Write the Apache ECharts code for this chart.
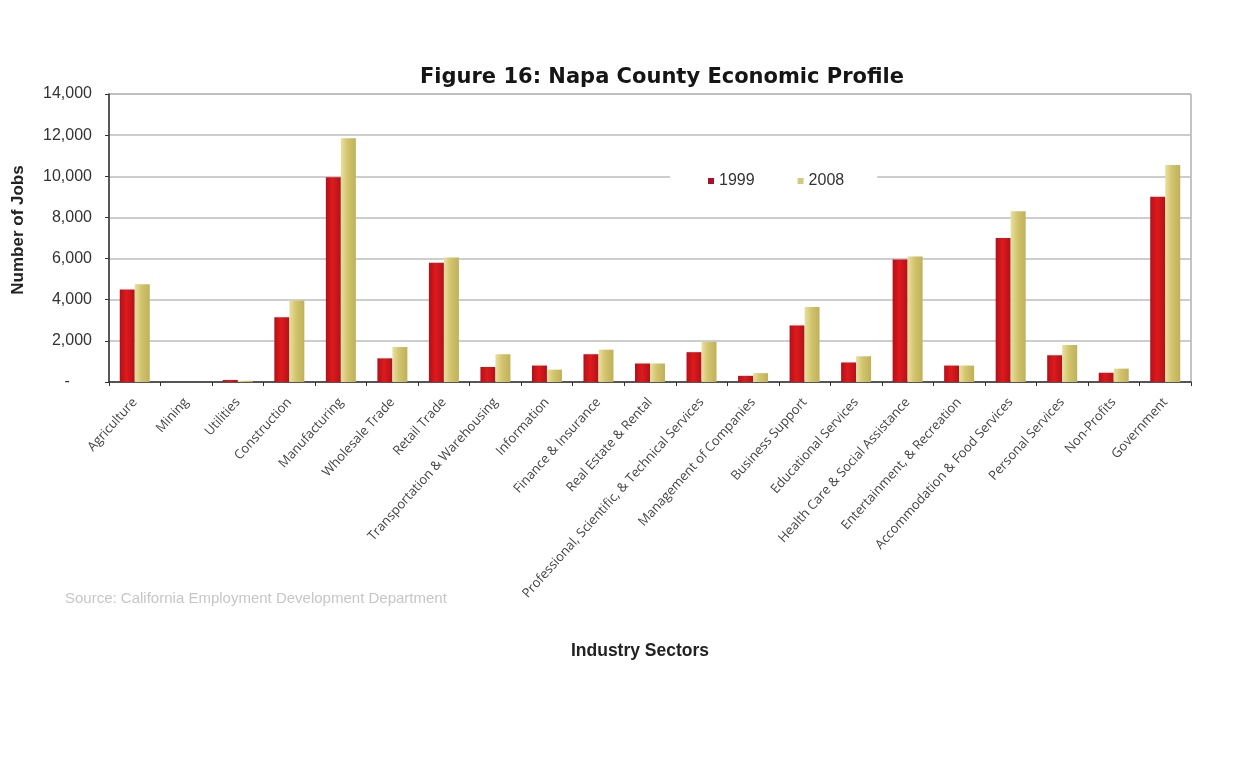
<!DOCTYPE html>
<html>
<head>
<meta charset="utf-8">
<title>Napa County Economic Profile</title>
<script src="https://cdn.jsdelivr.net/npm/echarts@6/dist/echarts.min.js"></script>
<style>
  html, body { margin: 0; padding: 0; background: #ffffff; }
  #chart { width: 1238px; height: 766px; }
</style>
</head>
<body>
<div id="chart"></div>
<script>
// Industry sectors along the x axis
const sectors = [
  'Agriculture', 'Mining', 'Utilities', 'Construction', 'Manufacturing',
  'Wholesale Trade', 'Retail Trade', 'Transportation & Warehousing',
  'Information', 'Finance & Insurance', 'Real Estate & Rental',
  'Professional, Scientific, & Technical Services', 'Management of Companies',
  'Business Support', 'Educational Services', 'Health Care & Social Assistance',
  'Entertainment, & Recreation', 'Accommodation & Food Services',
  'Personal Services', 'Non-Profits', 'Government'
];

// Number of jobs per sector
const jobs1999 = [4500, 0, 100, 3150, 9950, 1150, 5800, 730, 800, 1350, 900,
  1450, 300, 2750, 950, 5950, 800, 7000, 1300, 450, 9000];
const jobs2008 = [4750, 0, 60, 3950, 11850, 1700, 6050, 1350, 600, 1570, 900,
  1950, 430, 3650, 1250, 6100, 800, 8300, 1800, 650, 10550];

const seriesNames = ['1999', '2008'];

// Value axis ticks
const yMin = 0;
const yMax = 14000;
const yStep = 2000;

const chart = echarts.init(document.getElementById('chart'));

function barGradient(left, mid, right) {
  return new echarts.graphic.LinearGradient(0, 0, 1, 0, [
    { offset: 0, color: left },
    { offset: 0.45, color: mid },
    { offset: 1, color: right }
  ]);
}

chart.setOption({
  backgroundColor: '#ffffff',
  animation: false,
  title: {
    text: 'Figure 16: Napa County Economic Profile',
    left: 657,
    textAlign: 'center',
    top: 62,
    textStyle: {
      fontFamily: 'DejaVu Sans',
      fontWeight: 'bold',
      fontSize: 21,
      color: '#151515'
    }
  },
  legend: {
    left: 670,
    top: 167,
    padding: [6, 33, 6, 38],
    backgroundColor: '#ffffff',
    itemWidth: 6,
    itemHeight: 6,
    itemGap: 43,
    icon: 'rect',
    textStyle: { fontFamily: 'Liberation Sans', fontSize: 16, color: '#333' },
    data: [
      { name: seriesNames[0], itemStyle: { color: '#A8102A' } },
      { name: seriesNames[1], itemStyle: { color: '#CFCC7A' } }
    ]
  },
  grid: {
    left: 109,
    right: 47,
    top: 94,
    bottom: 384,
    show: true,
    borderColor: '#8a8a8a',
    borderWidth: 1
  },
  xAxis: {
    type: 'category',
    data: sectors,
    name: 'Industry Sectors',
    nameLocation: 'middle',
    nameGap: 260,
    nameTextStyle: {
      fontFamily: 'Liberation Sans',
      fontWeight: 'bold',
      fontSize: 17.5,
      color: '#222',
      padding: [0, 20, 0, 0]
    },
    axisLine: { lineStyle: { color: '#333', width: 1.5 } },
    axisTick: { show: true, length: 4, lineStyle: { color: '#333' } },
    axisLabel: {
      interval: 0,
      rotate: 48,
      margin: 18,
      fontFamily: 'Open Sans',
      fontSize: 13,
      color: '#444'
    }
  },
  yAxis: {
    type: 'value',
    min: yMin,
    max: yMax,
    interval: yStep,
    name: 'Number of Jobs',
    nameLocation: 'middle',
    nameRotate: 90,
    nameGap: 82,
    nameTextStyle: {
      fontFamily: 'Liberation Sans',
      fontWeight: 'bold',
      fontSize: 17,
      color: '#222',
      padding: [0, 0, 0, 16]
    },
    axisLine: { show: true, lineStyle: { color: '#333', width: 1.5 } },
    axisTick: { show: true, length: 4, lineStyle: { color: '#333' } },
    axisLabel: {
      margin: 17,
      fontFamily: 'Liberation Sans',
      fontSize: 16,
      color: '#333',
      formatter: function (v) {
        return v === 0 ? '-     ' : v.toLocaleString('en-US');
      }
    },
    splitLine: { show: true, lineStyle: { color: '#bdbdbd', width: 1.5 } }
  },
  graphic: [
    {
      type: 'text',
      left: 65,
      top: 591,
      style: {
        text: 'Source: California Employment Development Department',
        fontFamily: 'Liberation Sans',
        fontSize: 15,
        fill: '#c6c6c6'
      }
    }
  ],
  series: [
    {
      name: seriesNames[0],
      type: 'bar',
      data: jobs1999,
      barWidth: 15,
      barGap: '0%',
      itemStyle: { color: barGradient('#B4101A', '#DE1A1C', '#B0121A') }
    },
    {
      name: seriesNames[1],
      type: 'bar',
      data: jobs2008,
      barWidth: 15,
      barGap: '0%',
      itemStyle: { color: barGradient('#E8E0A0', '#D2C46C', '#BFB05A') }
    }
  ]
});
</script>
</body>
</html>
